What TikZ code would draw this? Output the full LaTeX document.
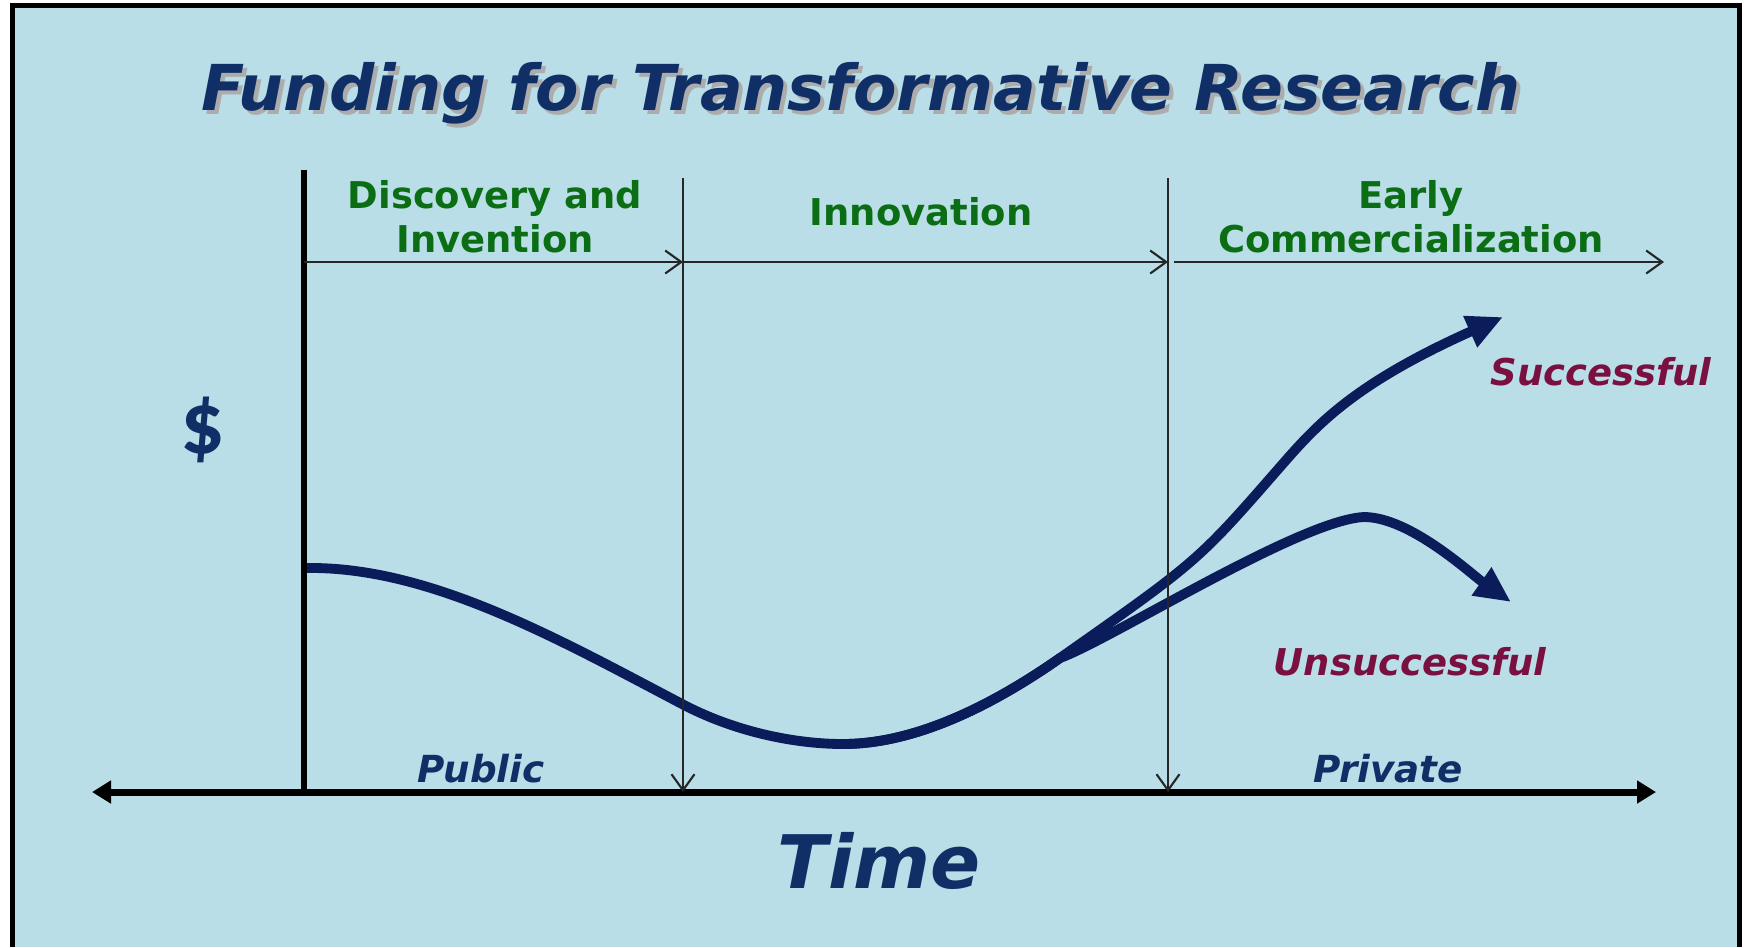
\documentclass[tikz,border=0pt]{standalone}
\usepackage{fontspec}
\setmainfont{DejaVu Sans}
\newfontfamily\dollarfont{Carlito}
\usetikzlibrary{arrows.meta}

\definecolor{panelblue}{HTML}{B9DEE8}
\definecolor{navytext}{HTML}{0F2F66}
\definecolor{curvenavy}{HTML}{0A1C5A}
\definecolor{phasegreen}{HTML}{0B6E14}
\definecolor{outcomered}{HTML}{7A1040}

\tikzset{
    phase/.style={text=phasegreen,inner sep=0pt,align=center,font=\fontsize{10.5}{12.5}\selectfont\bfseries},
    sector/.style={text=navytext,inner sep=0pt,anchor=base,font=\fontsize{10.6}{12}\selectfont\bfseries\itshape},
    outcome/.style={text=outcomered,inner sep=0pt,anchor=base,font=\fontsize{10.5}{12}\selectfont\bfseries\itshape},
    divider/.style={draw=black!85,line width=0.6pt,-{Straight Barb[length=0.16cm,width=0.23cm]}},
    funding/.style={draw=curvenavy,line width=2.8pt,line join=round,-{Triangle[length=0.36cm,width=0.32cm]}},
}

\begin{document}
\begin{tikzpicture}[x=0.01cm,y=-0.01cm]
    \useasboundingbox (0,0) rectangle (1745,947);
    \fill[panelblue] (12,5) rectangle (1740,947);
    \draw[line width=1.5pt] (12.5,947) -- (12.5,5.5) -- (1739.5,5.5) -- (1739.5,947);

    \coordinate (origin) at (304,792);
    \coordinate (axisL) at (92,792);
    \coordinate (axisR) at (1656,792);
    \coordinate (axisTop) at (304,170);
    \coordinate (divA) at (683,178);
    \coordinate (divAend) at (683,792);
    \coordinate (divB) at (1168,178);
    \coordinate (divBend) at (1168,792);
    \coordinate (stageL) at (304,262);
    \coordinate (stageA) at (683,262);
    \coordinate (stageB) at (1168,262);
    \coordinate (stageC) at (1174,262);
    \coordinate (stageR) at (1664,262);

    \coordinate (start) at (306,568);
    \coordinate (dip) at (684,705);
    \coordinate (low) at (843,744);
    \coordinate (fork) at (1060,658);
    \coordinate (rise) at (1280,467);
    \coordinate (succtip) at (1503,317);
    \coordinate (peak) at (1364,517);
    \coordinate (failtip) at (1511,602);

    \draw[funding] (start) .. controls (430,566) and (560,640) .. (dip)
        .. controls (740,734) and (800,744) .. (low)
        .. controls (920,744) and (1000,700) .. (fork)
        .. controls (1198,561) and (1198,561) .. (rise)
        .. controls (1315,427) and (1351,385) .. (succtip);
    \draw[funding] (low) .. controls (920,744) and (1000,700) .. (fork)
        .. controls (1110,640) and (1300,520) .. (peak)
        .. controls (1410,517) and (1471,574) .. (failtip);

    \draw[line width=1.6pt] (axisTop) -- (origin);
    \draw[line width=2pt,{Triangle[length=0.19cm,width=0.22cm]}-{Triangle[length=0.19cm,width=0.22cm]}] (axisL) -- (axisR);
    \draw[divider] (divA) -- (divAend);
    \draw[divider] (divB) -- (divBend);
    \draw[divider] (stageL) -- (stageA);
    \draw[divider] (stageA) -- (stageB);
    \draw[divider] (stageC) -- (stageR);

    \node[anchor=base,text=gray!65,font=\fontsize{18}{20}\selectfont\bfseries\itshape] (titleshadow) at (865,114) {Funding for Transformative Research};
    \node[anchor=base,text=navytext,font=\fontsize{18}{20}\selectfont\bfseries\itshape] (title) at (861,110) {Funding for Transformative Research};

    \node[phase,anchor=south] (discovery) at (495,254) {Discovery and\\Invention};
    \node[phase,anchor=base] (innovation) at (921,225) {Innovation};
    \node[phase,anchor=south] (early) at (1411,254) {Early\\Commercialization};

    \node[text=navytext,inner sep=0pt,font=\dollarfont\bfseries\fontsize{25}{28}\selectfont] (dollar) at (203,430) {\$};

    \node[outcome] (successful) at (1601,385) {Successful};
    \node[outcome] (unsuccessful) at (1410,675) {Unsuccessful};
    \node[sector] (public) at (481,782) {Public};
    \node[sector] (private) at (1388,782) {Private};
    \node[anchor=base,text=navytext,inner sep=0pt,font=\fontsize{21}{24}\selectfont\bfseries\itshape] (time) at (879,888) {Time};
\end{tikzpicture}
\end{document}
